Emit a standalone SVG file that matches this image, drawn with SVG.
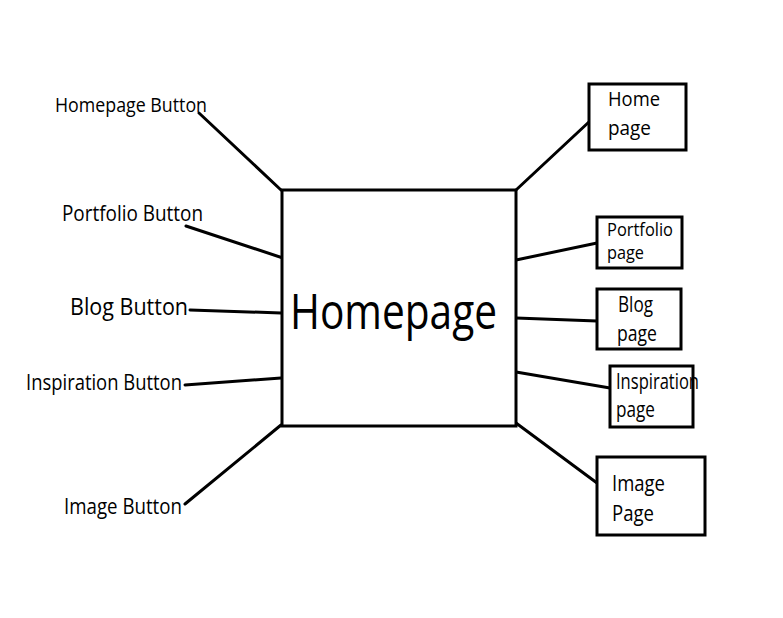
<svg xmlns="http://www.w3.org/2000/svg" width="783" height="618" viewBox="0 0 783 618">
<style>
.box{fill:#fff;stroke:#000;stroke-width:3}
.ln{stroke:#000;stroke-width:3;stroke-linecap:round;fill:none}
text{font-family:"Open Sans","Noto Sans","DejaVu Sans",sans-serif;fill:#000}
</style>
<rect width="783" height="618" fill="#fff"/>
<g id="connectors">
<line class="ln" x1="199" y1="113" x2="281" y2="190"/>
<line class="ln" x1="186" y1="226" x2="283" y2="258"/>
<line class="ln" x1="190" y1="310" x2="281" y2="313"/>
<line class="ln" x1="185" y1="385" x2="281" y2="378"/>
<line class="ln" x1="185" y1="504" x2="281" y2="425"/>
<line class="ln" x1="516" y1="190" x2="590" y2="121"/>
<line class="ln" x1="516" y1="260" x2="597" y2="243"/>
<line class="ln" x1="516" y1="318" x2="597" y2="321"/>
<line class="ln" x1="516" y1="372" x2="610" y2="388"/>
<line class="ln" x1="516" y1="423" x2="597" y2="483"/>
</g>
<g id="homepage">
<rect class="box" x="282" y="190" width="234" height="236"/>
<text x="290" y="329" font-size="49" textLength="207" lengthAdjust="spacingAndGlyphs">Homepage</text>
</g>
<g id="homepage-button"><text x="55" y="112" font-size="20" textLength="152" lengthAdjust="spacingAndGlyphs">Homepage Button</text></g>
<g id="portfolio-button"><text x="62" y="221" font-size="22" textLength="141" lengthAdjust="spacingAndGlyphs">Portfolio Button</text></g>
<g id="blog-button"><text x="70" y="315" font-size="24" textLength="118" lengthAdjust="spacingAndGlyphs">Blog Button</text></g>
<g id="inspiration-button"><text x="26" y="390" font-size="22" textLength="156" lengthAdjust="spacingAndGlyphs">Inspiration Button</text></g>
<g id="image-button"><text x="64" y="514" font-size="22" textLength="118" lengthAdjust="spacingAndGlyphs">Image Button</text></g>
<g id="home-page">
<rect class="box" x="589" y="84" width="97" height="66"/>
<text x="608" y="106" font-size="20" textLength="52" lengthAdjust="spacingAndGlyphs">Home</text>
<text x="608" y="135" font-size="20" textLength="43" lengthAdjust="spacingAndGlyphs">page</text>
</g>
<g id="portfolio-page">
<rect class="box" x="597" y="217" width="85" height="51"/>
<text x="607" y="236" font-size="18" textLength="66" lengthAdjust="spacingAndGlyphs">Portfolio</text>
<text x="607" y="259" font-size="18" textLength="37" lengthAdjust="spacingAndGlyphs">page</text>
</g>
<g id="blog-page">
<rect class="box" x="597" y="289" width="84" height="60"/>
<text x="618" y="312" font-size="22" textLength="35" lengthAdjust="spacingAndGlyphs">Blog</text>
<text x="617" y="341" font-size="22" textLength="40" lengthAdjust="spacingAndGlyphs">page</text>
</g>
<g id="inspiration-page">
<rect class="box" x="610" y="366" width="83" height="61"/>
<text x="616" y="389" font-size="21" textLength="83" lengthAdjust="spacingAndGlyphs">Inspiration</text>
<text x="616" y="417" font-size="21" textLength="39" lengthAdjust="spacingAndGlyphs">page</text>
</g>
<g id="image-page">
<rect class="box" x="597" y="457" width="108" height="78"/>
<text x="612" y="491" font-size="22" textLength="53" lengthAdjust="spacingAndGlyphs">Image</text>
<text x="612" y="521" font-size="22" textLength="42" lengthAdjust="spacingAndGlyphs">Page</text>
</g>
</svg>
